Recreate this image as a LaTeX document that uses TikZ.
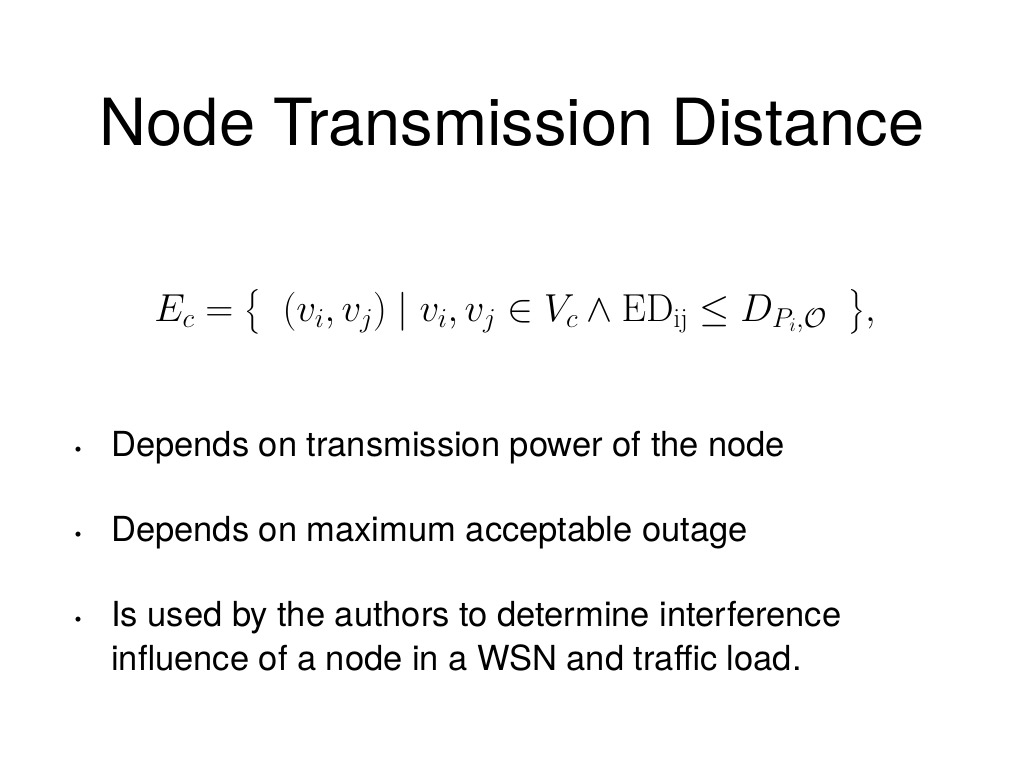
\documentclass[tikz,border=0pt]{standalone}
\usepackage{fix-cm}
\usepackage{amsmath}
\usepackage[no-math]{fontspec}
\setmainfont{TeX Gyre Heros}
\begin{document}
\begin{tikzpicture}[x=1pt,y=-1pt,
  body/.style={anchor=base west,inner sep=0pt,font=\fontsize{34.5}{42}\selectfont},
  dot/.style={anchor=base,inner sep=0pt,font=\fontsize{20}{24}\selectfont}]
\useasboundingbox (0,0) rectangle (1024,768);
\node[anchor=base,inner sep=0pt,font=\fontsize{65}{70}\selectfont] (title) at (512,145) {Node Transmission Distance};
\node[anchor=center,inner sep=0pt,font=\fontsize{39}{44}\selectfont] (eq) at (515,312)
 {$E_c = \big\{\;\; (v_i,v_j) \mid v_i,v_j\in V_c \wedge \mathrm{ED}_{\mathrm{ij}} \le D_{P_i,\mathcal{O}}\;\;\big\},$};
\node[dot] (d1) at (78,456) {•};
\node[body] (b1) at (111,456) {Depends on transmission power of the node};
\node[dot] (d2) at (78,541) {•};
\node[body] (b2) at (111,541) {Depends on maximum acceptable outage};
\node[dot] (d3) at (78,626) {•};
\node[body] (b3) at (111,626) {Is used by the authors to determine interference};
\node[body] (b4) at (111,670) {influence of a node in a WSN and traffic load.};
\end{tikzpicture}
\end{document}
